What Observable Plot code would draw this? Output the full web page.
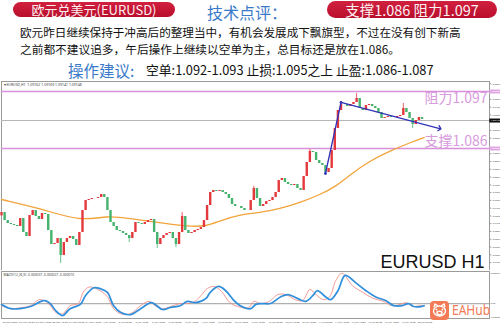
<!DOCTYPE html>
<html><head><meta charset="utf-8">
<script src="https://cdn.jsdelivr.net/npm/d3@7"></script>
<script src="https://cdn.jsdelivr.net/npm/@observablehq/plot@0.6"></script>
<style>
body{margin:0;width:500px;height:326px;overflow:hidden;background:#fff;font-family:"Noto Sans CJK SC","Noto Sans",sans-serif;position:relative}
.abs{position:absolute;white-space:nowrap}
.pill{background:linear-gradient(#d2203f,#b80e2c);color:#fdeef1;border-radius:9px;text-align:center}
#main,#osc{position:absolute;left:0}
#main{top:80px}#osc{top:270px}
</style></head><body>
<div class="abs pill" style="left:13px;top:2px;width:162px;height:15px;line-height:15px;font-size:13px">欧元兑美元(EURUSD)</div>
<div class="abs" style="left:207px;top:2px;font-size:16px;line-height:20px;color:#3a7ac8">技术点评：</div>
<div class="abs pill" style="left:327px;top:1px;width:170px;height:17px;line-height:17px;font-size:14.5px">支撑1.086 阻力1.097</div>
<div class="abs" style="left:20px;top:24px;font-size:11.6px;line-height:16px;color:#111">欧元昨日继续保持于冲高后的整理当中，有机会发展成下飘旗型，不过在没有创下新高</div>
<div class="abs" style="left:20px;top:41px;font-size:11.7px;line-height:16px;color:#111">之前都不建议追多，午后操作上继续以空单为主，总目标还是放在1.086。</div>
<div class="abs" style="left:68px;top:60px;font-size:15.5px;line-height:20px;color:#3a7ac8">操作建议:</div>
<div class="abs" style="left:146px;top:62px;font-size:12.8px;line-height:16px;color:#111">空单:1.092-1.093 止损:1.095之上 止盈:1.086-1.087</div>
<div id="main"></div>
<div id="osc"></div>
<div class="abs" style="left:430px;top:301px;width:19px;height:19px;border-radius:4px;background:#f27a55">
<svg width="19" height="19" viewBox="0 0 19 19"><g fill="none" stroke="#fff" stroke-width="1.4"><path d="M4 6 L5 3 L8 5"/><path d="M15 6 L14 3 L11 5"/><ellipse cx="9.5" cy="10" rx="6" ry="5"/><ellipse cx="9.5" cy="12" rx="2.6" ry="1.7"/></g><circle cx="6.5" cy="8.5" r="0.9" fill="#fff"/><circle cx="12.5" cy="8.5" r="0.9" fill="#fff"/></svg></div>
<div class="abs" style="left:452px;top:301px;font-family:'Noto Sans',sans-serif;font-size:15px;line-height:17px;color:#f27a55;transform:scaleX(0.8);transform-origin:0 50%">EAHub</div>
<script>
// ---------- data ----------
const barStep = 3; // each candle covers 3 hourly bars
const closes = [1.07365,1.07210,1.07153,1.07133,1.07114,1.07095,1.07249,1.06979,1.06902,1.07307,
1.07403,1.07288,1.07230,1.07346,1.07326,1.07017,1.06747,1.06767,1.06863,1.06535,
1.06786,1.06863,1.06902,1.06844,1.06728,1.06979,1.07403,1.07596,1.07616,1.07635,
1.07635,1.07654,1.07712,1.07654,1.07403,1.07172,1.07095,1.07017,1.06998,1.06960,
1.06921,1.06863,1.06979,1.07172,1.07153,1.07133,1.07172,1.07210,1.07230,1.06979,
1.06747,1.06863,1.06921,1.06960,1.06979,1.06863,1.06747,1.06979,1.07288,1.07017,
1.06960,1.06979,1.07017,1.07037,1.07075,1.07210,1.07500,1.07751,1.07789,1.07770,
1.07789,1.07751,1.07712,1.07635,1.07519,1.07481,1.07481,1.07442,1.07403,1.07403,
1.07596,1.07828,1.07635,1.07481,1.07519,1.07577,1.07596,1.07654,1.07751,1.07982,
1.08021,1.07944,1.07905,1.07886,1.07905,1.07828,1.07789,1.08060,1.08330,1.08542,
1.08523,1.08368,1.08311,1.08272,1.08137,1.08214,1.08561,1.08986,1.09333,1.09449,
1.09449,1.09411,1.09449,1.09488,1.09565,1.09372,1.09333,1.09430,1.09449,1.09411,
1.09372,1.09295,1.09179,1.09198,1.09218,1.09198,1.09198,1.09218,1.09237,1.09372,
1.09295,1.09179,1.09063,1.09140,1.09198,1.09160];
const firstOpen = 1.07300;
const spikes = [{k:19,lo:1.06381},{k:41,lo:1.06786},{k:50,lo:1.06670},{k:56,lo:1.06689},{k:58,hi:1.07365},
{k:81,hi:1.07870},{k:99,hi:1.08580},{k:114,hi:1.09661},{k:129,hi:1.09469},{k:132,lo:1.08986}];
const maBars   = [0,38,76,102,124,144,179,197,211,230,250,269,288,307,322,336,355,375,394,407];
const maValues = [1.07616,1.07442,1.07191,1.07307,1.07249,1.07191,1.07095,1.07095,1.07210,1.07326,
1.07365,1.07442,1.07558,1.07712,1.07867,1.08098,1.08368,1.08561,1.08716,1.08812];
const trendBars = [312,327,422];
const trendValues = [1.08118,1.09488,1.08986];
const resistance = 1.097, support = 1.086, currentPrice = 1.0914;
const priceTicks = [1.0640,1.0655,1.0670,1.0685,1.0700,1.0715,1.0730,1.0745,1.0760,1.0775,1.0790,1.0805,
1.0820,1.0835,1.0850,1.0865,1.0880,1.0895,1.0910,1.0925,1.0940,1.0955,1.0970,1.0985];
const macdBars = [0,9,18,28,38,42,47,52,59,66,76,81,89,95,102,108,115,124,134,144,148,155,163,172,179,187,197,201,209,216,
224,230,240,245,251,259,269,276,285,293,300,304,312,317,324,331,341,351,360,370,378,386,392,397,404,407];
const macdMain = [-0.00002,-0.00012,-0.00012,-0.00007,0.00005,0.00007,0.0,-0.00016,-0.00028,-0.00012,-0.00002,0.00019,0.00037,0.00035,0.00026,-0.00005,-0.00021,-0.00026,-0.00012,0.00002,
-0.00002,-0.00014,-0.00009,-0.00005,0.00005,0.00002,0.00012,0.00026,0.0004,0.0003,0.00007,-0.00005,-0.00012,-0.00002,0.0,0.0,0.00016,0.00021,0.00012,0.00005,
0.00019,0.0003,0.00016,0.00009,0.0003,0.00066,0.00049,0.0003,0.00016,0.00007,-0.00005,-0.00005,0.0,-0.00007,-0.00007,-0.00005];
const sigBars = [0,9,18,28,36,42,47,53,59,66,74,79,85,95,102,108,115,124,134,142,148,155,163,172,179,186,193,198,205,212,
220,228,238,243,250,258,266,274,283,290,297,302,310,316,322,328,338,348,358,368,376,384,390,396,403,407];
const macdSignal = [-0.00005,-0.00012,-0.0001,-0.00005,0.00009,0.00006,-0.00005,-0.00022,-0.00024,-0.00005,0.0,0.00028,0.00039,0.0003,0.00016,-0.00012,-0.00024,-0.00024,-0.00005,0.00005,
-0.00005,-0.00012,-0.00007,0.0,0.0,0.00005,0.00021,0.00035,0.0004,0.00028,0.00002,-0.00007,-0.0001,0.00005,0.0,0.00005,0.00021,0.00021,0.00009,0.00007,
0.00033,0.00023,0.00009,0.00016,0.00054,0.00071,0.00042,0.00026,0.00012,0.00005,-0.00005,-0.00002,0.00002,-0.00007,-0.00005,-0.00005];
const oscTickLabels = ["0.000737","0.00","-0.000882"];
const oscTickValues = [0.00071, 0, -0.00032];
const timeLabels = ["26 May 2023","29 May 02:00","29 May 18:00","30 May 10:00","31 May 02:00","31 May 18:00","1 Jun 10:00","2 Jun 02:00",
"2 Jun 18:00","5 Jun 10:00","6 Jun 02:00","6 Jun 18:00","7 Jun 10:00","8 Jun 02:00","8 Jun 18:00","9 Jun 10:00","12 Jun 02:00",
"12 Jun 18:00","13 Jun 10:00","14 Jun 02:00","14 Jun 18:00","15 Jun 10:00","16 Jun 02:00","16 Jun 18:00","19 Jun 10:00","20 Jun 02:00"];
const labelStep = 16;

// ---------- build ----------
const candles = closes.map((c,i)=>{
  const o = i===0 ? firstOpen : closes[i-1];
  const s = spikes.find(d=>d.k===i) || {};
  return {bar:i*barStep, open:o, close:c, high:Math.max(o,c,s.hi ?? -Infinity), low:Math.min(o,c,s.lo ?? Infinity)};
});
const ma = maBars.map((b,i)=>({bar:b, v:maValues[i]}));
const trend = trendBars.map((b,i)=>({bar:b, v:trendValues[i]}));
const mainS = macdBars.map((b,i)=>({bar:b, v:macdMain[i]}));
const sigS = sigBars.map((b,i)=>({bar:b, v:macdSignal[i]}));
const tl = timeLabels.map((t,i)=>({bar:i*labelStep, t}));
const oscT = oscTickLabels.map((t,i)=>({t, v:oscTickValues[i]}));
const xDomain = [0,470];
const up = "#e4393c", down = "#45b36e";
const fmt = d3.format(".5f");
const boxed = [resistance, support, currentPrice];
const shownTicks = priceTicks.filter(t => boxed.every(b => Math.abs(t-b) > 0.0006));

const main = Plot.plot({
  width:500, height:190, marginLeft:1, marginRight:11, marginTop:1, marginBottom:0,
  x:{domain:xDomain, axis:null},
  y:{domain:[1.06246,1.09893], axis:null},
  style:{background:"transparent"},
  marks:[
    Plot.frame({stroke:"#9a9a9a", strokeWidth:1}),
    Plot.ruleY([resistance, support], {stroke:"#d890dc", strokeWidth:1.3}),
    Plot.ruleY([currentPrice], {stroke:"#b5b5b5", strokeWidth:1}),
    Plot.line(ma, {x:"bar", y:"v", stroke:"#f2a33a", strokeWidth:1.3, curve:"basis"}),
    Plot.ruleX(candles, {x:"bar", y1:"low", y2:"high", stroke:d=>d.close>=d.open?up:down, strokeWidth:0.8}),
    Plot.ruleX(candles, {x:"bar", y1:"open", y2:"close", stroke:d=>d.close>=d.open?up:down, strokeWidth:2.4}),
    Plot.line(trend, {x:"bar", y:"v", stroke:"#3232b8", strokeWidth:1.3, markerEnd:"arrow"}),
    Plot.dot(trend.slice(0,2), {x:"bar", y:"v", fill:"#3232b8", r:1.4}),
    Plot.text(["阻力1.097"], {y:resistance, frameAnchor:"right", textAnchor:"end", dx:-2, dy:7, fill:"#d79bdc", fontSize:14, fontFamily:"Noto Sans CJK SC"}),
    Plot.text(["支撑1.086"], {y:support, frameAnchor:"right", textAnchor:"end", dx:-2, dy:-7, fill:"#d79bdc", fontSize:14, fontFamily:"Noto Sans CJK SC"}),
    Plot.text(["EURUSD H1"], {frameAnchor:"bottom-right", textAnchor:"end", dx:-5, dy:-3, fill:"#111", fontSize:18, fontFamily:"Liberation Sans"}),
    Plot.text(["▾ EURUSD,H1  1.09162 1.09169 1.09141 1.09148"], {frameAnchor:"top-left", textAnchor:"start", dx:2, dy:2, fill:"#444", fontSize:3.5}),
    Plot.axisY(shownTicks, {anchor:"right", tickSize:1, tickFormat:fmt, fontSize:2.4, fill:"#555", stroke:"#999", tickPadding:0.5}),
    Plot.ruleY([resistance, support], {x1:470.3, x2:480.6, stroke:"#e2a8e6", strokeWidth:4, clip:false}),
    Plot.ruleY([currentPrice], {x1:470.3, x2:480.6, stroke:"#111", strokeWidth:4, clip:false}),
    Plot.text(boxed, {y:d=>d, text:d=>fmt(d), frameAnchor:"right", textAnchor:"start", dx:1.5, fill:"#fff", fontSize:2.4})
  ]
});
document.getElementById("main").append(main);

const osc = Plot.plot({
  width:500, height:56, marginLeft:1, marginRight:11, marginTop:1, marginBottom:8,
  x:{domain:xDomain, axis:null},
  y:{domain:[-0.00035,0.00075], axis:null},
  marks:[
    Plot.frame({stroke:"#9a9a9a", strokeWidth:1}),
    Plot.ruleY([0], {stroke:"#b0b0b0", strokeWidth:1.2}),
    Plot.line(sigS, {x:"bar", y:"v", stroke:"#f29088", strokeWidth:0.9, curve:"catmull-rom"}),
    Plot.line(mainS, {x:"bar", y:"v", stroke:"#2f8fdc", strokeWidth:1.7, curve:"catmull-rom"}),
    Plot.text(["MACD(12,26,9) -0.000037 -0.000027 -0.000010"], {frameAnchor:"top-left", textAnchor:"start", dx:2, dy:2, fill:"#444", fontSize:3.3}),
    Plot.text(tl, {x:"bar", text:"t", frameAnchor:"bottom", textAnchor:"start", dx:1, dy:4.5, fill:"#555", fontSize:2.5}),
    Plot.text(oscT, {y:"v", text:"t", frameAnchor:"right", textAnchor:"start", dx:1, fill:"#555", fontSize:2.4})
  ]
});
document.getElementById("osc").append(osc);
</script>
</body></html>
